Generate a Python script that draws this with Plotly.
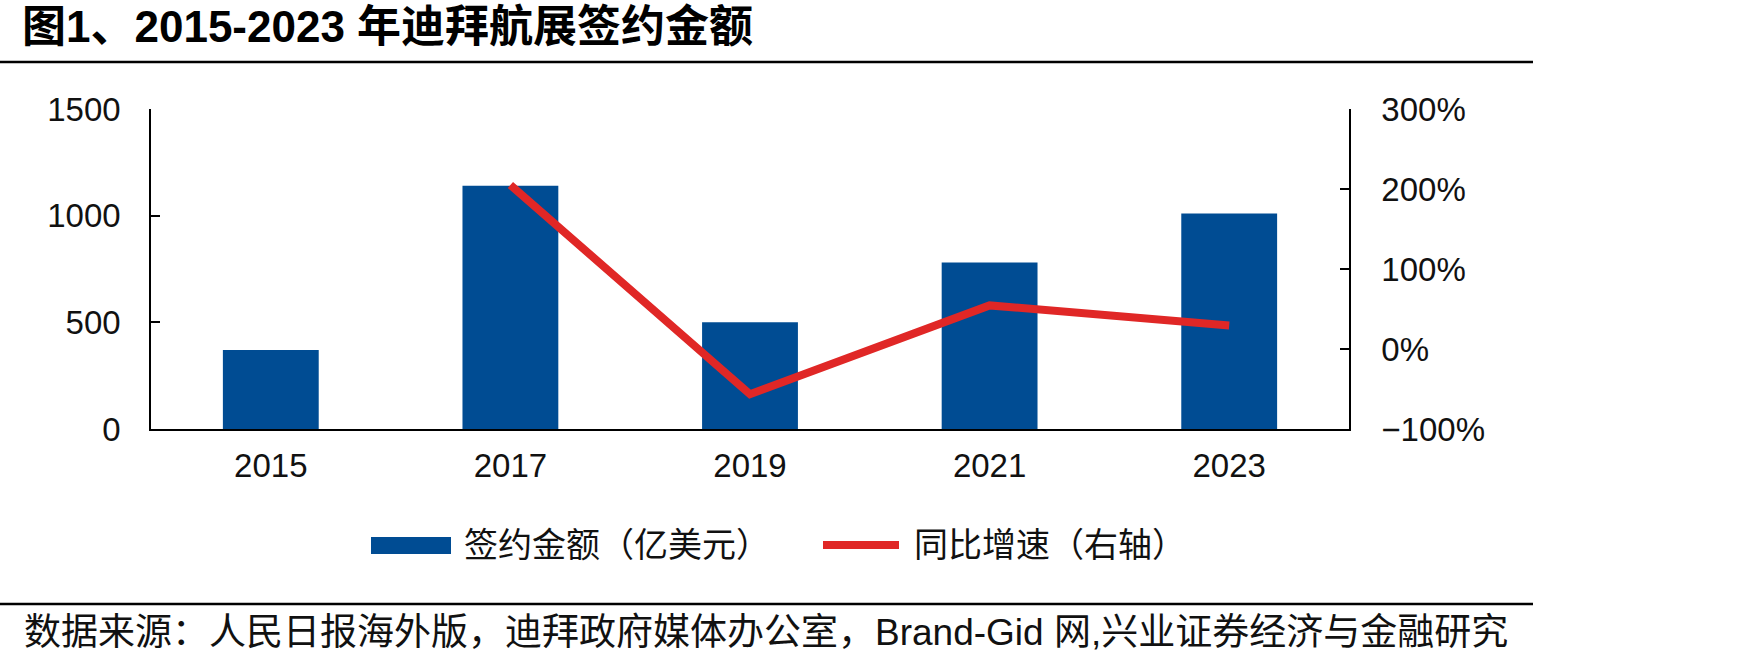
import plotly.graph_objects as go

# ---------------- data ----------------
years = ["2015", "2017", "2019", "2021", "2023"]
amount = [370, 1140, 500, 780, 1010]          # 签约金额（亿美元）
growth_years = ["2017", "2019", "2021", "2023"]
growth = [2.05, -0.565, 0.545, 0.295]          # 同比增速（右轴）

title_text = "图1、2015-2023 年迪拜航展签约金额"
source_text = "数据来源：人民日报海外版，迪拜政府媒体办公室，Brand-Gid 网,兴业证券经济与金融研究"
bar_name = "签约金额（亿美元）"
line_name = "同比增速（右轴）"

# ---------------- style ----------------
W, H = 1748, 663
L, R, T, B = 151, 1349, 109, 429   # plot area in pixels
BLUE = "#004C93"
RED = "#E02726"
FONT = "Liberation Sans, Arial, Noto Sans CJK SC, sans-serif"
CJK = "Liberation Sans, Noto Sans CJK SC, sans-serif"


def px(x):
    return (x - L) / (R - L)


def py(y):
    return (B - y) / (B - T)


fig = go.Figure()
fig.add_trace(go.Bar(x=years, y=amount, name=bar_name, marker_color=BLUE,
                     marker_line_width=0, width=0.4, showlegend=False))
fig.add_trace(go.Scatter(x=growth_years, y=growth, name=line_name, yaxis="y2",
                         mode="lines", line=dict(color=RED, width=8),
                         showlegend=False))

axis_line = dict(showline=True, linecolor="#000", linewidth=1.5)
fig.update_layout(
    width=W, height=H,
    margin=dict(l=L, r=W - R, t=T, b=H - B, pad=0),
    paper_bgcolor="white", plot_bgcolor="white",
    font=dict(family=FONT, size=33, color="#111"),
    xaxis=dict(type="category", showgrid=False, ticks="", **axis_line,
               tickfont=dict(size=33), ticklabelstandoff=7),
    yaxis=dict(range=[0, 1500], dtick=500, showgrid=False, zeroline=False,
               ticks="inside", ticklen=9, tickwidth=1.5, tickcolor="#000",
               tickfont=dict(size=33), ticklabelstandoff=22, **axis_line),
    yaxis2=dict(range=[-1, 3], dtick=1, tickformat=".0%", overlaying="y",
                side="right", showgrid=False, zeroline=False,
                ticks="inside", ticklen=9, tickwidth=1.5, tickcolor="#000",
                tickfont=dict(size=33), ticklabelstandoff=24, **axis_line),
    showlegend=False,
)

shapes = [
    # top rule
    dict(type="line", xref="paper", yref="paper", x0=px(0), x1=px(1533),
         y0=py(62), y1=py(62), line=dict(color="#000", width=2.5)),
    # bottom rule
    dict(type="line", xref="paper", yref="paper", x0=px(0), x1=px(1533),
         y0=py(604), y1=py(604), line=dict(color="#000", width=2.5)),
    # legend keys
    dict(type="rect", xref="paper", yref="paper", x0=px(371), x1=px(451),
         y0=py(554), y1=py(537), fillcolor=BLUE, line=dict(width=0)),
    dict(type="line", xref="paper", yref="paper", x0=px(823), x1=px(899),
         y0=py(545), y1=py(545), line=dict(color=RED, width=8)),
]

annotations = [
    dict(text=f"<b>{title_text}</b>", xref="paper", yref="paper",
         x=px(20), y=py(27), xanchor="left", yanchor="middle", showarrow=False,
         font=dict(family=CJK, size=44, color="#000")),
    dict(text=source_text, xref="paper", yref="paper",
         x=px(22), y=py(632), xanchor="left", yanchor="middle", showarrow=False,
         font=dict(family=CJK, size=37, color="#111")),
    dict(text=bar_name, xref="paper", yref="paper",
         x=px(462), y=py(545), xanchor="left", yanchor="middle", showarrow=False,
         font=dict(family=CJK, size=34, color="#111")),
    dict(text=line_name, xref="paper", yref="paper",
         x=px(912), y=py(545), xanchor="left", yanchor="middle", showarrow=False,
         font=dict(family=CJK, size=34, color="#111")),
]
fig.update_layout(shapes=shapes, annotations=annotations)

fig.write_html("out.html")
